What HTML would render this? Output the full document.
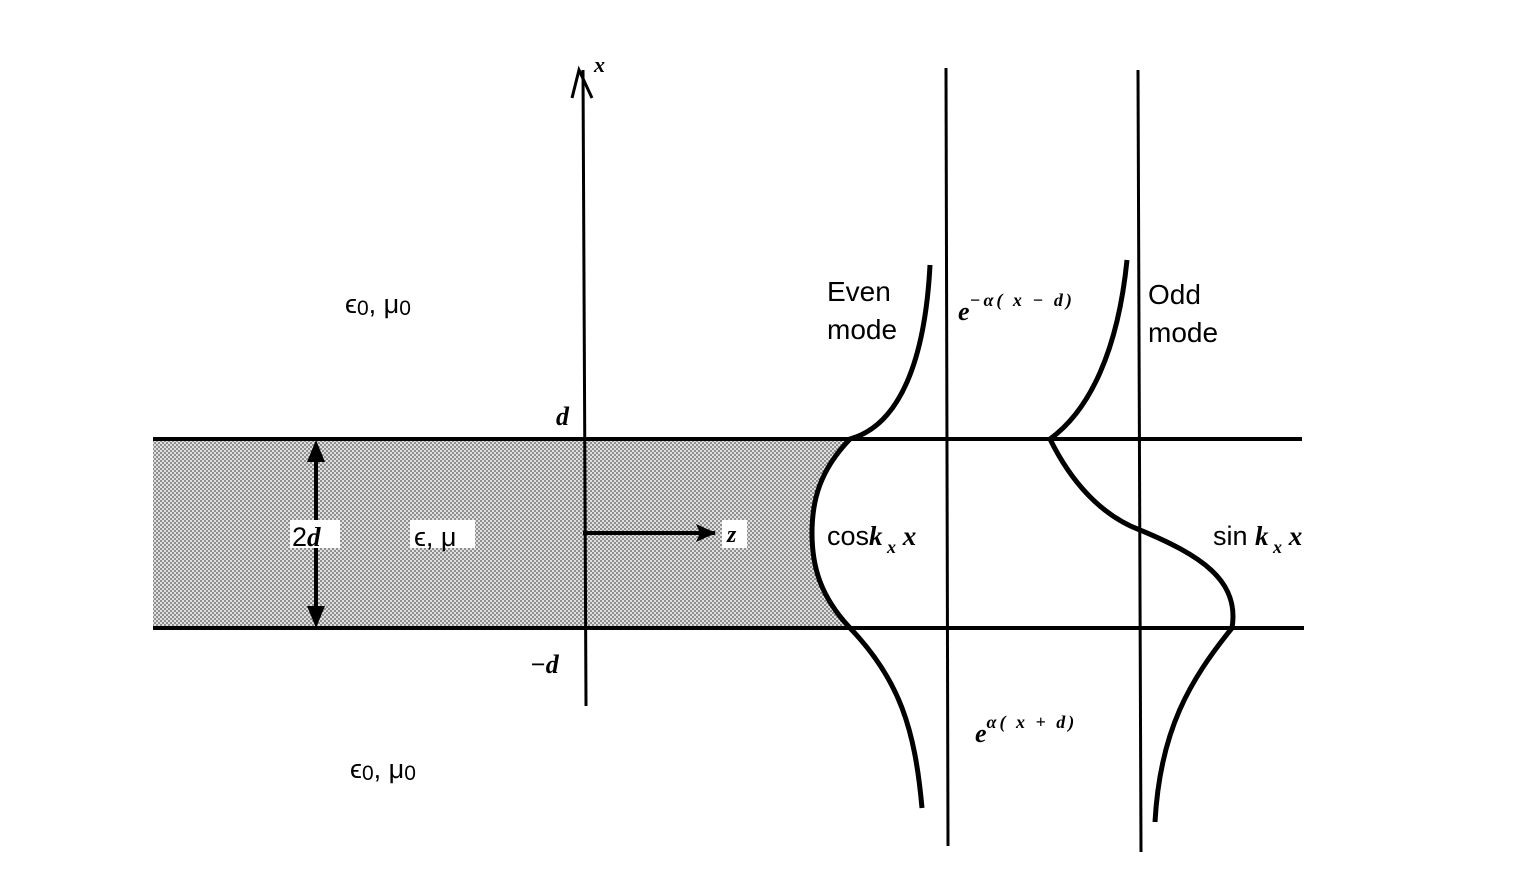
<!DOCTYPE html>
<html><head><style>
body{margin:0;background:#fff}
svg{display:block}
text{font-family:"Liberation Sans",sans-serif;fill:#000}
.i{font-family:"Liberation Serif",serif;font-style:italic;font-weight:bold}
</style></head><body>
<svg width="1519" height="889" viewBox="0 0 1519 889" xmlns="http://www.w3.org/2000/svg">
<defs>
<pattern id="dots" width="4" height="4" patternUnits="userSpaceOnUse">
<rect width="4" height="4" fill="#e0e0e0"/>
<circle cx="1" cy="1" r="0.9" fill="#555"/>
<circle cx="3" cy="3" r="0.9" fill="#555"/>
</pattern>
</defs>
<path d="M153,439 L850,439 C820,470 812,500 812,533 C812,566 820,596 850,628 L153,628 Z" fill="url(#dots)"/>
<g stroke="#000" fill="none">
<line x1="153" y1="439" x2="1302" y2="439" stroke-width="4"/>
<line x1="153" y1="628" x2="1304" y2="628" stroke-width="4"/>
<line x1="583" y1="70" x2="586" y2="706" stroke-width="3"/>
<polyline points="572,98 579,70 592,98" stroke-width="3"/>
<line x1="946" y1="68" x2="948" y2="846" stroke-width="3"/>
<line x1="1138" y1="70" x2="1141" y2="852" stroke-width="3"/>
<line x1="583" y1="533" x2="715" y2="533" stroke-width="4"/>
<line x1="316" y1="450" x2="316" y2="620" stroke-width="4"/>
<path d="M930,265 C925,360 900,425 850,439 C820,470 812,500 812,533 C812,566 820,596 850,628 C900,680 915,730 922,808" stroke-width="5"/>
<path d="M1127,260 C1118,350 1090,410 1050,439 C1070,480 1100,515 1140,530 C1200,555 1240,580 1232,628 C1190,680 1160,730 1155,822" stroke-width="5"/>
</g>
<polygon points="716,533 696,524 700,533 696,542" fill="#000"/>
<polygon points="316,440 307,462 325,462" fill="#000"/>
<polygon points="316,628 307,606 325,606" fill="#000"/>
<rect x="290" y="520" width="50" height="28" fill="#fff"/>
<rect x="410" y="520" width="65" height="28" fill="#fff"/>
<rect x="722" y="520" width="25" height="28" fill="#fff"/>
<text x="594" y="72" class="i" font-size="22">x</text>
<text x="556" y="425" class="i" font-size="26">d</text>
<text x="530" y="673" class="i" font-size="26">−d</text>
<text x="292" y="546" font-size="27">2<tspan class="i">d</tspan></text>
<text x="414" y="546" font-size="27">ϵ, μ</text>
<text x="727" y="542" class="i" font-size="24">z</text>
<text x="345" y="313" font-size="27">ϵ<tspan font-size="21" dy="2">0</tspan><tspan dy="-2">, μ</tspan><tspan font-size="21" dy="2">0</tspan></text>
<text x="350" y="778" font-size="27">ϵ<tspan font-size="21" dy="2">0</tspan><tspan dy="-2">, μ</tspan><tspan font-size="21" dy="2">0</tspan></text>
<text x="827" y="301" font-size="28">Even</text>
<text x="827" y="339" font-size="28">mode</text>
<text x="1148" y="304" font-size="28">Odd</text>
<text x="1148" y="342" font-size="28">mode</text>
<text x="958" y="320" class="i" font-size="26">e<tspan font-size="18" dy="-14" letter-spacing="3">−α( x − d)</tspan></text>
<text x="975" y="742" class="i" font-size="26">e<tspan font-size="18" dy="-14" letter-spacing="3">α( x + d)</tspan></text>
<text x="827" y="545" font-size="27">cos<tspan class="i">k</tspan><tspan class="i" font-size="18" dy="8"> x</tspan><tspan class="i" dy="-8"> x</tspan></text>
<text x="1213" y="545" font-size="27">sin <tspan class="i">k</tspan><tspan class="i" font-size="18" dy="8"> x</tspan><tspan class="i" dy="-8"> x</tspan></text>
</svg>
</body></html>
